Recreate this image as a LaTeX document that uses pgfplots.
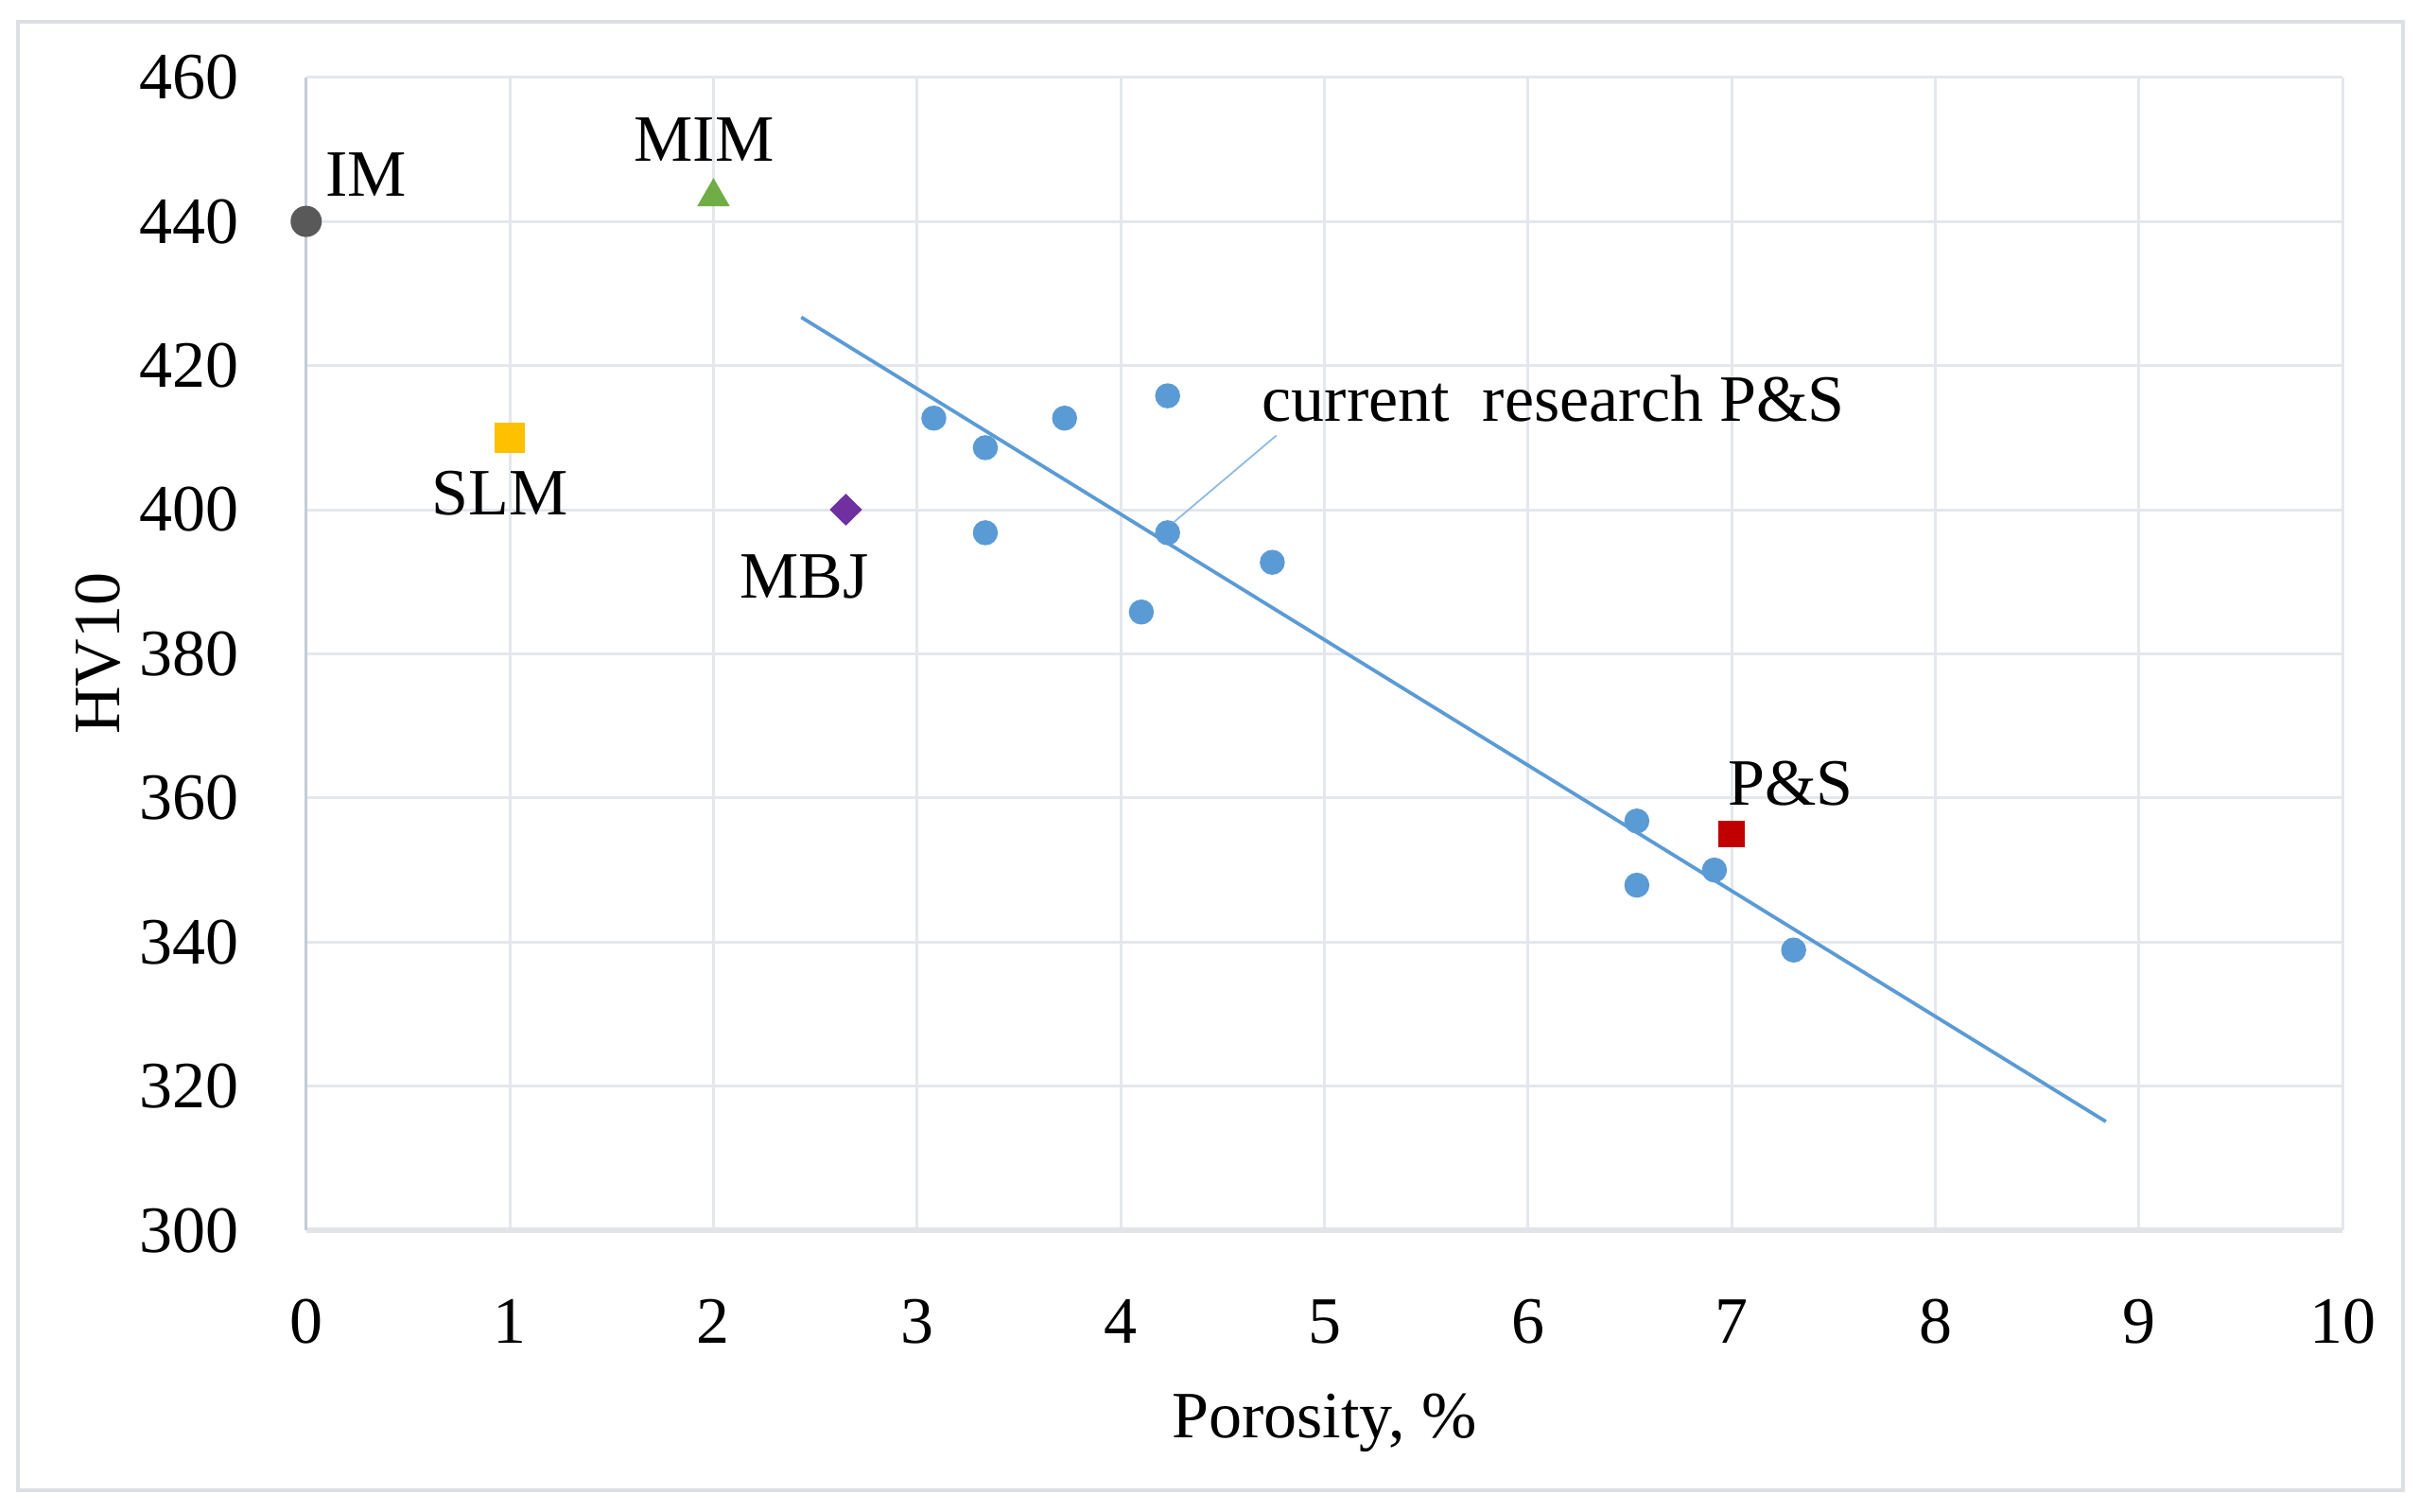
\documentclass[border=0pt]{standalone}
\usepackage{fontspec}
\setmainfont{Liberation Serif}
\usepackage{pgfplots}
\pgfplotsset{compat=1.18}
\definecolor{gridc}{HTML}{E4E7EC}
\definecolor{xaxc}{HTML}{E2E4E8}
\definecolor{yaxc}{HTML}{C3CCD8}
\definecolor{framec}{HTML}{DCDFE3}
\definecolor{bluep}{HTML}{5B9BD5}
\definecolor{imc}{HTML}{595959}
\definecolor{mimc}{HTML}{70AD47}
\definecolor{slmc}{HTML}{FFC000}
\definecolor{mbjc}{HTML}{7030A0}
\definecolor{psc}{HTML}{C00000}
\newcommand{\F}{\fontsize{14}{17}\selectfont}
\begin{document}
\begin{tikzpicture}
\begin{axis}[
 width=430.7pt, height=243.9pt, scale only axis,
 xmin=0, xmax=10, ymin=300, ymax=460,
 xtick={0,1,...,10}, ytick={300,320,...,460},
 grid=major, major grid style={draw=gridc, line width=0.6pt},
 axis x line*=bottom, axis y line*=left,
 x axis line style={-, draw=xaxc, line width=1.2pt},
 y axis line style={-, draw=yaxc, line width=0.6pt},
 major tick length=0pt,
 clip=false,
 /pgf/number format/assume math mode=true,
 tick label style={font=\F},
 label style={font=\F},
 xticklabel style={anchor=north, inner sep=0pt, yshift=-14.4pt},
 yticklabel style={anchor=east, inner sep=0pt, xshift=-14.1pt},
 xlabel={Porosity, \%}, ylabel={HV10},
 every axis x label/.style={at={(axis description cs:0.5,-0.1796)}, anchor=base, inner sep=0pt, font=\F},
 every axis y label/.style={at={(axis description cs:-0.0915,0.5)}, rotate=90, anchor=base, inner sep=0pt, font=\F},
]
% frame and page extent
\draw[framec, line width=0.8pt] (rel axis cs:-0.1415,-0.2252) rectangle (rel axis cs:1.0296,1.0479);
\path (rel axis cs:-0.15034,-0.24397) rectangle (rel axis cs:1.03797,1.06702);

% current research P&S
\addplot[only marks, mark=*, mark size=2.45pt, color=bluep] coordinates {
 (3.082,412.7) (3.335,408.6) (3.724,412.7) (4.230,415.8)
 (3.335,396.8) (4.230,396.8) (4.101,385.8) (4.744,392.7)
 (6.534,356.8) (6.534,347.9) (6.915,350.0) (7.304,338.9)};
% trend line
\addplot[color=bluep, line width=0.75pt] coordinates {(2.431,426.7) (8.837,315.1)};
% leader line
\addplot[color=bluep!70, line width=0.35pt] coordinates {(4.764,410.3) (4.262,398.3)};

% other processes
\addplot[only marks, mark=*, mark size=3.1pt, color=imc] coordinates {(0,440)};
\addplot[only marks, mark=triangle*, mark size=3.6pt, color=mimc] coordinates {(2,443.4)};
\addplot[only marks, mark=square*, mark size=2.95pt, color=slmc] coordinates {(1,410)};
\addplot[only marks, mark=diamond*, mark size=3.1pt, mark options={xscale=1.35}, color=mbjc] coordinates {(2.65,400)};
\addplot[only marks, mark=square*, mark size=2.55pt, color=psc] coordinates {(7,355)};

% labels
\node[font=\F, anchor=base west, inner sep=0pt] at (axis cs:0.091,443.5) {IM};
\node[font=\F, anchor=base, inner sep=0pt] at (axis cs:1.954,448.4) {MIM};
\node[font=\F, anchor=base, inner sep=0pt] at (axis cs:0.952,399.3) {SLM};
\node[font=\F, anchor=base, inner sep=0pt] at (axis cs:2.446,387.7) {MBJ};
\node[font=\F, anchor=base west, inner sep=0pt] at (axis cs:6.977,359.0) {P\&S};
\node[font=\F, anchor=base west, inner sep=0pt] at (axis cs:4.690,412.3) {current\ \ research P\&S};
\end{axis}
\end{tikzpicture}
\end{document}
